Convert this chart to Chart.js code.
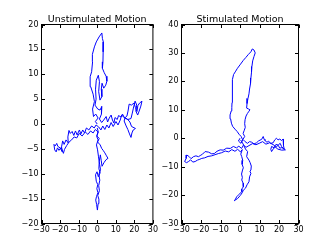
<!DOCTYPE html>
<html>
<head>
<meta charset="utf-8">
<script src="https://cdn.jsdelivr.net/npm/chart.js@4/dist/chart.umd.min.js"></script>
<style>
  html, body { margin: 0; padding: 0; background: #fff; }
  #wrap { position: relative; width: 332px; height: 249px; overflow: hidden; }
  canvas { position: absolute; top: 0; }
  #left { left: 0; }
  #right { left: 160px; }
</style>
</head>
<body>
<div id="wrap">
  <canvas id="left" width="160" height="249"></canvas>
  <canvas id="right" width="172" height="249"></canvas>
</div>
<script>
// trajectories (x, y pairs)
let unstimPath = [
  [0,0],[-1,0.5],[0.5,1.2],[-0.8,2],[-2,1.5],[-2.5,3],[-1.5,4.5],[-2.2,6],[-3.5,7.5],[-3.8,9.5],
  [-3,10.5],[-2.5,12.5],[-2.6,14],[-1.5,15.5],[-0.5,16.5],[1,17.5],[2.5,18.3],[2.8,17.2],[3.3,16.5],[3.2,14.5],
  [3.1,12.5],[2.8,11.2],[3.8,10.3],[4.8,9.6],[5.2,8.6],[4.6,7.8],[3.5,7.2],[2.6,8.2],[2.2,7],[2.5,5.5],
  [1.5,4.8],[0.8,6.5],[1.2,8.5],[0.6,9.8],[-0.5,8.8],[-0.9,7],[-0.6,5],[-1.2,3.8],[0.3,3],[1.5,2.8],
  [2.5,3.5],[2.3,2],[1.2,1],[2.4,0.3],[3.5,0.8],[4.8,1.5],[5.6,0.4],[6.5,1.2],[7.5,1.8],[8.2,0.8],
  [9,0.2],[9.6,1.3],[10.8,0.9],[11.5,1.7],[12.8,1.4],[13.6,2],[14.8,1.2],[16,1.6],[16.6,2.6],[17.2,4],
  [18.4,3.8],[19.8,4.2],[20.6,3.3],[21.4,2.5],[21.9,3.7],[22.8,4.2],[24.1,4.6],[23.5,3.6],[22.6,2.6],[21.8,1.8],
  [20.8,2.6],[21.3,3.8],[20.4,4.6],[19.5,3.2],[18.9,2.2],[18.2,1.1],[16.5,0.9],[15,1.2],[14.5,0.6],[15.6,-0.4],
  [16.5,-1.1],[17.4,-2],[18.2,-2.7],[18.7,-1.8],[19.4,-1.2],[20.6,-0.9],[18.5,-0.5],[17.6,0.4],[16.2,1],[14.4,1.3],
  [13.2,1.8],[12.4,0.8],[11.2,-0.2],[10.1,0.5],[8.6,-0.5],[7.5,0.3],[6.3,-0.8],[5.2,-0.2],[4.1,-1.1],[3,-0.4],
  [2,-1.2],[0.8,-0.6],[-0.6,-0.2],[-1.6,-0.8],[-3,-0.4],[-4.5,-1.2],[-5.8,-0.8],[-6.8,-1.8],[-7.8,-1.2],[-8.8,-2],
  [-9.6,-1.2],[-10.8,-2.2],[-11.7,-1.4],[-12.6,-2.3],[-13.5,-1.5],[-14.5,-1.9],[-15.2,-1.3],[-15.8,-2.6],[-15.6,-3.8],[-16.8,-3.2],
  [-17.8,-4.1],[-18.6,-3.4],[-19.2,-4.6],[-18.8,-5.6],[-20,-4.8],[-21.2,-4.5],[-21.8,-3.9],[-22.6,-4.4],[-23.3,-4.1],[-22.9,-5.2],
  [-22.1,-5.6],[-21.4,-4.8],[-20.6,-5.3],[-19.4,-4.7],[-18.2,-5.9],[-17.6,-5.1],[-16.4,-4.3],[-15.1,-3.6],[-13.8,-3.2],[-12.4,-2.6],
  [-11,-2.8],[-9.7,-1.9],[-8.1,-2.4],[-6.4,-1.6],[-5,-2.1],[-3.6,-1.4],[-2.2,-1.8],[-1,-1.1],[0.4,-1.6],[-0.2,-2.4],
  [1.1,-2.9],[0.2,-3.6],[1.6,-4.2],[2.4,-4.9],[3.2,-5.3],[4.1,-5.8],[5,-6.4],[5.8,-6.9],[4.7,-7.2],[3.6,-7.8],
  [2.6,-8.5],[2.2,-7.4],[1.7,-6.2],[1.1,-7.5],[0.9,-9],[1.6,-9.8],[0.6,-10.6],[-0.1,-9.6],[-0.9,-10.2],[-0.5,-11.5],
  [0.3,-12.2],[-0.2,-13],[0.4,-13.8],[-0.4,-14.6],[-0.8,-15.3],[-0.3,-16.2],[0.1,-17.3],[0.5,-16],[0.9,-15.1],[0.3,-14.4],
  [1.2,-13.4],[0.8,-12.4],[1.4,-11.3],[0.9,-10.1],[1.8,-9.2],[1.3,-8.1],[0.7,-6.6],[0.2,-5.2],[-0.4,-4.2],[0.5,-3.2],
  [-0.3,-2.5],[0.6,-1.6],[0,-0.8]
];

let stimPath = [
  [0,0],[-0.8,-1],[0.5,-1.8],[1.4,-0.6],[0.6,0.6],[-0.5,1.4],[-1.5,2.4],[-2.6,3.2],[-3.8,4.2],[-4.4,5.3],
  [-4.8,6.8],[-5.1,8.2],[-4.5,9.6],[-4.2,10.8],[-4.1,12.5],[-3.9,14.7],[-4,16.8],[-3.8,18.8],[-3.9,20.6],[-3.3,22.4],
  [-2.2,23.6],[-1.3,24.6],[0,25.8],[1.7,27.4],[3,28.4],[4.2,29.4],[5.6,30.4],[6.3,31.4],[7.2,31],[7.8,30],
  [7.2,28.8],[6.5,27.2],[6.1,25.2],[5.9,23.2],[5.6,21.2],[5.4,19.2],[4.9,17.3],[4.6,15.6],[4.1,14],[3.6,12.2],
  [3.4,10.6],[4.3,10.3],[5.1,10],[4.4,9.3],[3.8,8.7],[3.1,7.8],[2.6,6.5],[2.4,5.1],[2.7,3.8],[2.2,2.8],
  [1.6,1.7],[2.4,0.6],[1.5,-0.4],[2.6,-1.2],[3.8,-1.8],[4.9,-1.2],[6,-1.4],[7.2,-2],[8.5,-1.6],[9.6,-0.9],
  [11.1,-0.4],[11.9,0.6],[12.4,-0.4],[12.8,-0.8],[13.8,-1.4],[14.7,-1.1],[15.8,-1.8],[17,-1.6],[17.8,-0.6],[18.7,0],
  [19.5,-0.6],[20.4,-0.3],[21.3,-0.8],[22.1,-0.3],[22.4,-1.5],[22.2,-2.6],[22.7,-3.9],[21.5,-3.3],[20.4,-3.5],[19.6,-2.5],
  [18.7,-2.9],[17.6,-3.4],[16.2,-2.9],[15.8,-3.9],[16.2,-4.7],[17.1,-3.7],[18.4,-2.2],[19.6,-2.4],[20.6,-1.8],[21.3,-2.9],
  [22.3,-3.6],[23.3,-4.1],[21.4,-4.2],[19.2,-3.8],[17.4,-2.4],[15.2,-1.6],[13.3,-2.1],[11.6,-1.2],[9.8,-1.8],[8.2,-2.3],
  [6.4,-1.9],[4.6,-2.6],[3.1,-3.2],[1.8,-2.4],[0.8,-3.6],[-0.6,-2.8],[-1.8,-3.4],[-3.4,-2.9],[-5,-3.6],[-6.8,-3.5],
  [-8.6,-4.2],[-10.2,-4.1],[-11.8,-4.6],[-13.2,-5.4],[-14.5,-5.5],[-16.1,-4.9],[-17.9,-4.7],[-19.2,-5.6],[-20.4,-6.1],[-21.3,-6.5],
  [-22.6,-6.2],[-23.9,-6.5],[-25.1,-7.2],[-26.2,-6.4],[-27.3,-5.9],[-27.6,-7.1],[-28.4,-8.2],[-27.4,-8.6],[-26.4,-8.2],[-25.3,-7.6],
  [-24.2,-8.4],[-23,-8.2],[-21.8,-7.7],[-20.6,-7.4],[-19.6,-7.1],[-18.1,-6.9],[-16.4,-6.4],[-14.5,-6.2],[-12.8,-5.8],[-11.1,-5.4],
  [-9.4,-5.1],[-7.6,-4.5],[-5.8,-4.8],[-4.2,-4],[-2.6,-4.6],[-1.2,-3.9],[0.2,-4.8],[1.2,-4],[0.4,-5.6],[0.9,-6.5],
  [1.4,-7.8],[1.1,-9.2],[1.7,-10.4],[1.3,-11.2],[0.8,-12.6],[1.2,-13.8],[0.9,-14.7],[1.6,-15.8],[1.7,-17.1],[0.9,-17.9],
  [0.9,-18.8],[-0.4,-19.7],[-1.7,-20.6],[-2.3,-21.4],[-2.9,-22],[-2.1,-21.6],[-1.2,-21.2],[0.2,-20.1],[1.1,-19.2],[1.7,-18.3],
  [2.8,-17.6],[3.6,-16.4],[4.6,-15.3],[4.9,-13.6],[5.6,-12.4],[5.1,-11.6],[5.6,-11.2],[5.8,-9.8],[5.2,-8.6],[4.6,-7.7],
  [3.4,-6.5],[3.9,-4.7],[2.8,-3.8],[2,-2.6],[1.1,-1.4],[0.3,-0.6]
];

let titles = ['Unstimulated Motion', 'Stimulated Motion'];
let xTicks = [-30, -20, -10, 0, 10, 20, 30];
let unstimYTicks = [-20, -15, -10, -5, 0, 5, 10, 15, 20];
let stimYTicks = [-30, -20, -10, 0, 10, 20, 30, 40];

Chart.defaults.font.family = '"DejaVu Sans", sans-serif';
Chart.defaults.color = '#000';

function fmt(v) {
  return v < 0 ? '\u2212' + Math.abs(v) : String(v);
}

// matplotlib style box with inward ticks on all four sides, title over the box
let frame = {
  id: 'frame',
  afterDraw(chart, args, opts) {
    let c = chart.ctx, a = chart.chartArea;
    let xs = chart.scales.x, ys = chart.scales.y;
    c.save();
    c.strokeStyle = '#000';
    c.lineWidth = 1;
    c.beginPath();
    xs.ticks.forEach(t => {
      let px = Math.round(xs.getPixelForValue(t.value)) + 0.5;
      c.moveTo(px, a.bottom); c.lineTo(px, a.bottom - 3.5);
      c.moveTo(px, a.top); c.lineTo(px, a.top + 3.5);
    });
    ys.ticks.forEach(t => {
      let py = Math.round(ys.getPixelForValue(t.value)) + 0.5;
      c.moveTo(a.left, py); c.lineTo(a.left + 3.5, py);
      c.moveTo(a.right, py); c.lineTo(a.right - 3.5, py);
    });
    c.stroke();
    c.strokeRect(a.left, a.top, a.right - a.left, a.bottom - a.top);

    c.fillStyle = '#000';
    c.font = '9.5px "DejaVu Sans", sans-serif';
    c.textAlign = 'center';
    c.textBaseline = 'middle';
    c.fillText(opts.text, (a.left + a.right) / 2, 19.5);
    c.restore();
  }
};

function makeChart(id, title, path, yTicks, leftW, rightPad) {
  let pts = path.map(p => ({ x: p[0], y: p[1] }));
  return new Chart(document.getElementById(id), {
    type: 'scatter',
    data: {
      datasets: [{
        data: pts,
        showLine: true,
        borderColor: '#0000ff',
        borderWidth: 1,
        pointRadius: 0,
        tension: 0
      }]
    },
    options: {
      responsive: false,
      animation: false,
      devicePixelRatio: 1,
      layout: { padding: { top: 24.5, left: 0, right: rightPad, bottom: 0 } },
      plugins: {
        legend: { display: false },
        tooltip: { enabled: false },
        title: { display: false },
        frame: { text: title }
      },
      scales: {
        x: {
          type: 'linear',
          min: xTicks[0],
          max: xTicks[xTicks.length - 1],
          afterBuildTicks: s => { s.ticks = xTicks.map(v => ({ value: v })); },
          afterFit: s => { s.height = 25.5; },
          grid: { display: false, drawTicks: false },
          border: { display: false },
          ticks: {
            font: { size: 8 },
            padding: 2,
            maxRotation: 0,
            minRotation: 0,
            autoSkip: false,
            callback: v => fmt(v)
          }
        },
        y: {
          type: 'linear',
          min: yTicks[0],
          max: yTicks[yTicks.length - 1],
          afterBuildTicks: s => { s.ticks = yTicks.map(v => ({ value: v })); },
          afterFit: s => { s.width = leftW; },
          grid: { display: false, drawTicks: false },
          border: { display: false },
          ticks: {
            font: { size: 8 },
            padding: 3,
            autoSkip: false,
            callback: v => fmt(v)
          }
        }
      }
    },
    plugins: [frame]
  });
}

makeChart('left', titles[0], unstimPath, unstimYTicks, 41.5, 1.5);
makeChart('right', titles[1], stimPath, stimYTicks, 21.5, 33.5);
</script>
</body>
</html>
